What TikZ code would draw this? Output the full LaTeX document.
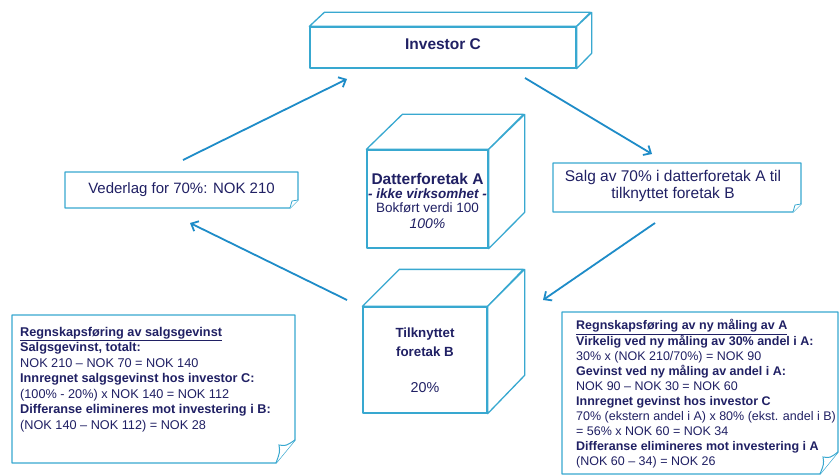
\documentclass[tikz,border=0pt]{standalone}
\usepackage{fontspec}
\setmainfont{Liberation Sans}
\usetikzlibrary{arrows.meta}
\definecolor{edge}{RGB}{56,168,208}
\definecolor{arr}{RGB}{30,140,200}
\definecolor{txt}{RGB}{32,32,100}
\begin{document}
\begin{tikzpicture}[x=1pt,y=-1pt,
  face/.style={draw=edge, line width=1.3pt, fill=white, line join=round},
  facebox/.style={face, inner sep=0pt, text=txt, align=center},
  conn/.style={draw=arr, line width=1.8pt, -{Straight Barb[length=6pt,width=11pt,line width=1.8pt]}},
  notetext/.style={anchor=north west, inner sep=0pt, text=txt, align=left}]
\useasboundingbox[fill=white] (0,0) rectangle (840,476);

% Investor C (flat cube)
\node[facebox, minimum width=266pt, minimum height=41pt] (inv) at (443,47.5) {};
\draw[face] (inv.north west) -- ++(15,-14) -- ++(266,0) -- (inv.north east) -- cycle;
\draw[face] (inv.north east) -- ++(15,-14) -- ++(0,41) -- (inv.south east) -- cycle;
\node[text=txt, font=\bfseries\fontsize{15.5}{18}\selectfont] (invtext) at (443,44) {Investor C};

% Datterforetak A cube
\node[facebox, minimum width=121pt, minimum height=98pt] (da) at (427.5,199) {};
\draw[face] (da.north west) -- ++(36,-35) -- ++(121,0) -- (da.north east) -- cycle;
\draw[face] (da.north east) -- ++(36,-35) -- ++(0,98) -- (da.south east) -- cycle;
\node[text=txt, align=center, font=\fontsize{13.5}{14.3}\selectfont] (datext) at (427.5,201)
  {\textbf{\fontsize{15.5}{14.3}\selectfont Datterforetak A}\\ \textbf{\textit{- ikke virksomhet -}}\\ Bokført verdi 100\\[1.5pt] \textit{\fontsize{14}{15}\selectfont 100\%}};

% Tilknyttet foretak B cube
\node[facebox, minimum width=124pt, minimum height=106pt] (tb) at (425,360) {};
\draw[face] (tb.north west) -- ++(37,-37) -- ++(124,0) -- (tb.north east) -- cycle;
\draw[face] (tb.north east) -- ++(37,-37) -- ++(0,106) -- (tb.south east) -- cycle;
\node[text=txt, align=center, font=\bfseries\fontsize{13.3}{19}\selectfont] (tbtext) at (425,342) {Tilknyttet\\foretak B};
\node[text=txt, font=\fontsize{14.3}{15}\selectfont] (tbpct) at (425,388) {20\%};

% Vederlag note
\draw[face] (65,172) -- (298,172) -- (298,200) -- (290,208) -- (65,208) -- cycle;
\draw[draw=edge, line width=0.8pt, fill=white] (290,208) -- (292,201) -- (298,200);
\node[text=txt, font=\fontsize{15}{17}\selectfont] (ved) at (181.5,190) {Vederlag for 70\%: NOK 210};

% Salg note
\draw[face] (553,163) -- (801,163) -- (801,204) -- (793,212) -- (553,212) -- cycle;
\draw[draw=edge, line width=0.8pt, fill=white] (793,212) -- (795,205) -- (801,204);
\node[text=txt, align=center, font=\fontsize{15.5}{16.5}\selectfont] (salg) at (673,186) {Salg av 70\% i datterforetak A til\\tilknyttet foretak B};

% Left note
\draw[face] (12,315) -- (295,315) -- (295,440) -- (276,463) -- (12,463) -- cycle;
\draw[draw=edge, line width=1pt, fill=white] (276,463) .. controls (280,452) .. (279,445) .. controls (286,446) .. (295,440);
\node[notetext, font=\fontsize{12.7}{15.5}\selectfont] (lnote) at (20,327) {%
\textbf{\underline{Regnskapsføring av salgsgevinst}}\\
\textbf{Salgsgevinst, totalt:}\\
NOK 210 – NOK 70 = NOK 140\\
\textbf{Innregnet salgsgevinst hos investor C:}\\
(100\% - 20\%) x NOK 140 = NOK 112\\
\textbf{Differanse elimineres mot investering i B:}\\
(NOK 140 – NOK 112) = NOK 28};

% Right note
\draw[face] (562,312) -- (838,312) -- (838,452) -- (820,474) -- (562,474) -- cycle;
\draw[draw=edge, line width=1pt, fill=white] (820,474) .. controls (824,464) .. (823,457) .. controls (830,458) .. (838,452);
\node[notetext, font=\fontsize{12.5}{15.1}\selectfont] (rnote) at (576,319.5) {%
\textbf{\underline{Regnskapsføring av ny måling av A}}\\
\textbf{Virkelig ved ny måling av 30\% andel i A:}\\
30\% x (NOK 210/70\%) = NOK 90\\
\textbf{Gevinst ved ny måling av andel i A:}\\
NOK 90 – NOK 30 = NOK 60\\
\textbf{Innregnet gevinst hos investor C}\\
70\% (ekstern andel i A) x 80\% (ekst. andel i B)\\
= 56\% x NOK 60 = NOK 34\\
\textbf{Differanse elimineres mot investering i A}\\
(NOK 60 – 34) = NOK 26};

% Connectors
\coordinate (a1s) at (183,160); \coordinate (a1e) at (347,79);
\coordinate (a2s) at (525,78);  \coordinate (a2e) at (652,154);
\coordinate (a3s) at (655,223); \coordinate (a3e) at (543,300);
\coordinate (a4s) at (347,300); \coordinate (a4e) at (190,223);
\draw[conn] (a1s) -- (a1e);
\draw[conn] (a2s) -- (a2e);
\draw[conn] (a3s) -- (a3e);
\draw[conn] (a4s) -- (a4e);
\end{tikzpicture}
\end{document}
